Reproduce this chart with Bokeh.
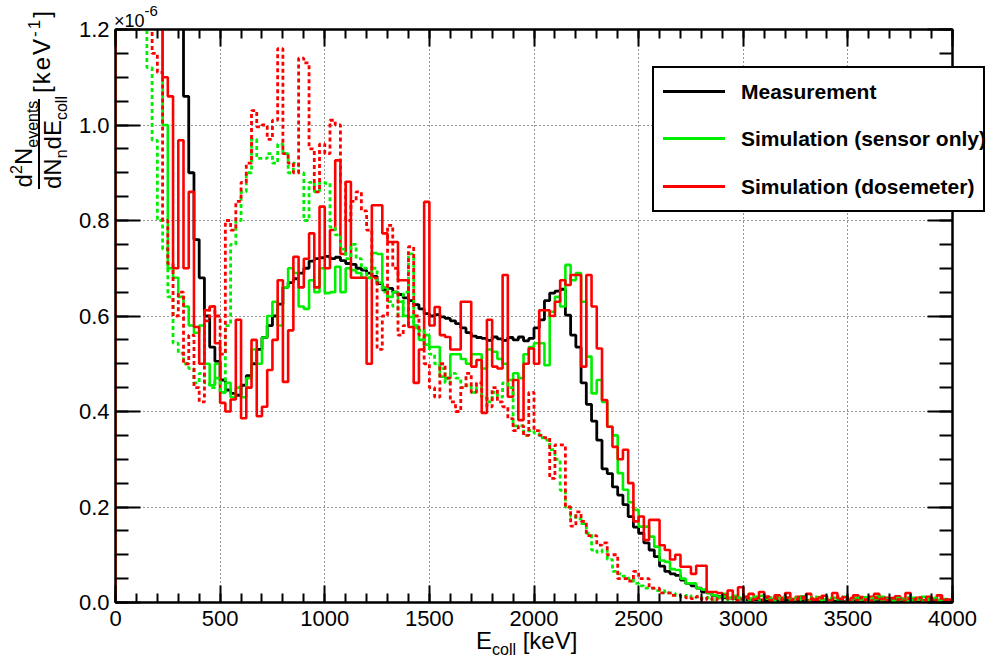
import numpy as np
from bokeh.plotting import figure
from bokeh.models import (LinearAxis, FixedTicker, Div, PrintfTickFormatter,
                          CustomJSTickFormatter, Range1d)
from bokeh.embed import file_html
from bokeh.resources import INLINE

# ---------------- data (values in units of 1e-6 keV^-1), 25 keV bins 0..4000 ----------------
bin_width_kev = 25
e_max_kev = 4000

measurement = [
    3.0, 3.0, 2.9, 2.7, 2.5, 2.3, 2.1, 1.9, 1.75, 1.6,
    1.5, 1.4, 1.3, 1.06, 0.90, 0.76, 0.68, 0.60, 0.535, 0.505,
    0.466, 0.445, 0.438, 0.434, 0.455, 0.475, 0.50, 0.53, 0.555, 0.58,
    0.60, 0.625, 0.66, 0.67, 0.678, 0.69, 0.70, 0.715, 0.72, 0.722,
    0.725, 0.72, 0.723, 0.716, 0.71, 0.708, 0.70, 0.696, 0.69, 0.683,
    0.668, 0.655, 0.658, 0.65, 0.645, 0.638, 0.632, 0.624, 0.615, 0.605,
    0.60, 0.603, 0.598, 0.595, 0.59, 0.584, 0.575, 0.565, 0.558, 0.555,
    0.553, 0.549, 0.556, 0.552, 0.549, 0.555, 0.55, 0.556, 0.548, 0.553,
    0.575, 0.592, 0.632, 0.648, 0.652, 0.656, 0.602, 0.56, 0.535, 0.46,
    0.415, 0.38, 0.34, 0.28, 0.27, 0.242, 0.225, 0.205, 0.18, 0.158,
    0.145, 0.125, 0.11, 0.096, 0.076, 0.065, 0.06, 0.057, 0.047, 0.04,
    0.035, 0.03, 0.022, 0.02, 0.014, 0.012, 0.01, 0.009, 0.008, 0.007,
    0.006, 0.005, 0.006, 0.005, 0.004, 0.005, 0.004, 0.004, 0.005, 0.003,
    0.004, 0.004, 0.003, 0.004, 0.003, 0.003, 0.004, 0.003, 0.003, 0.002,
    0.003, 0.003, 0.002, 0.003, 0.002, 0.002, 0.003, 0.002, 0.002, 0.002,
    0.002, 0.002, 0.001, 0.002, 0.002, 0.001, 0.002, 0.001, 0.002, 0.001,
]

sim_sensor = [
    3.0, 3.0, 2.8, 2.6, 2.4, 2.2, 2.0, 1.7, 1.4, 1.0,
    0.70, 0.68, 0.64, 0.62, 0.58, 0.565, 0.58, 0.50, 0.455, 0.50,
    0.44, 0.46, 0.43, 0.45, 0.43, 0.47, 0.53, 0.50, 0.555, 0.60,
    0.63, 0.58, 0.66, 0.70, 0.69, 0.62, 0.615, 0.675, 0.65, 0.70,
    0.648, 0.65, 0.703, 0.65, 0.70, 0.696, 0.69, 0.68, 0.68, 0.732,
    0.73, 0.66, 0.64, 0.65, 0.63, 0.60, 0.598, 0.575, 0.55, 0.56,
    0.535, 0.535, 0.473, 0.47, 0.52, 0.52, 0.51, 0.50, 0.52, 0.52,
    0.49, 0.53, 0.525, 0.51, 0.50, 0.466, 0.48, 0.47, 0.52, 0.535,
    0.543, 0.543, 0.497, 0.609, 0.64, 0.62, 0.707, 0.675, 0.69, 0.63,
    0.515, 0.438, 0.466, 0.42, 0.368, 0.35, 0.271, 0.236, 0.21, 0.194,
    0.159, 0.159, 0.138, 0.117, 0.088, 0.085, 0.07, 0.068, 0.05, 0.04,
    0.04, 0.03, 0.027, 0.02, 0.015, 0.012, 0.018, 0.01, 0.014, 0.008,
    0.012, 0.006, 0.01, 0.014, 0.008, 0.005, 0.012, 0.007, 0.01, 0.006,
    0.009, 0.013, 0.005, 0.008, 0.011, 0.006, 0.004, 0.01, 0.007, 0.012,
    0.005, 0.009, 0.006, 0.011, 0.004, 0.008, 0.012, 0.006, 0.009, 0.005,
    0.008, 0.004, 0.01, 0.006, 0.012, 0.005, 0.008, 0.004, 0.007, 0.005,
]

sim_dosemeter = [
    3.0, 3.0, 2.8, 2.6, 2.4, 2.2, 2.0, 1.7, 1.4, 1.10,
    1.06, 0.70, 0.968, 0.70, 0.86, 0.577, 0.50, 0.612, 0.62, 0.543,
    0.418, 0.40, 0.425, 0.592, 0.386, 0.45, 0.55, 0.39, 0.41, 0.487,
    0.55, 0.675, 0.462, 0.57, 0.724, 0.66, 0.72, 0.773, 0.66, 0.829,
    0.70, 0.78, 0.926, 0.73, 0.881, 0.68, 0.68, 0.68, 0.50, 0.832,
    0.832, 0.773, 0.755, 0.755, 0.675, 0.675, 0.577, 0.46, 0.53, 0.839,
    0.58, 0.619, 0.56, 0.556, 0.53, 0.53, 0.63, 0.63, 0.494, 0.508,
    0.397, 0.592, 0.494, 0.49, 0.686, 0.431, 0.466, 0.382, 0.50, 0.532,
    0.50, 0.612, 0.612, 0.60, 0.63, 0.675, 0.665, 0.686, 0.686, 0.494,
    0.686, 0.62, 0.532, 0.424, 0.368, 0.326, 0.30, 0.32, 0.25, 0.17,
    0.18, 0.131, 0.173, 0.173, 0.12, 0.11, 0.09, 0.10, 0.075, 0.075,
    0.06, 0.077, 0.077, 0.022, 0.022, 0.02, 0.015, 0.025, 0.01, 0.032,
    0.012, 0.018, 0.008, 0.022, 0.01, 0.006, 0.015, 0.01, 0.02, 0.007,
    0.012, 0.008, 0.018, 0.006, 0.01, 0.014, 0.005, 0.02, 0.008, 0.011,
    0.006, 0.015, 0.009, 0.005, 0.012, 0.018, 0.007, 0.01, 0.005, 0.013,
    0.008, 0.02, 0.006, 0.01, 0.004, 0.012, 0.007, 0.015, 0.005, 0.006,
]

sim_sensor_dotted = [
    3.0, 3.0, 2.8, 2.5, 2.2, 1.8, 1.12, 0.968, 0.80, 0.74,
    0.64, 0.543, 0.522, 0.50, 0.49, 0.46, 0.48, 0.46, 0.45, 0.47,
    0.44, 0.58, 0.75, 0.80, 0.86, 0.90, 0.97, 0.93, 0.93, 0.94,
    0.92, 0.96, 0.94, 0.90, 0.92, 0.90, 0.80, 0.88, 0.86, 0.88,
    0.878, 0.786, 0.77, 0.74, 0.72, 0.75, 0.72, 0.70, 0.68, 0.70,
    0.67, 0.65, 0.63, 0.62, 0.60, 0.65, 0.73, 0.58, 0.57, 0.54,
    0.52, 0.50, 0.49, 0.46, 0.48, 0.47, 0.45, 0.455, 0.44, 0.45,
    0.43, 0.42, 0.44, 0.43, 0.46, 0.45, 0.37, 0.37, 0.35, 0.36,
    0.355, 0.345, 0.34, 0.32, 0.30, 0.235, 0.20, 0.18, 0.175, 0.165,
    0.145, 0.11, 0.105, 0.11, 0.09, 0.065, 0.06, 0.055, 0.05, 0.04,
    0.035, 0.03, 0.03, 0.025, 0.025, 0.02, 0.02, 0.015, 0.012, 0.015,
    0.01, 0.012, 0.008, 0.01, 0.006, 0.009, 0.012, 0.005, 0.008, 0.01,
    0.006, 0.009, 0.012, 0.005, 0.008, 0.01, 0.004, 0.011, 0.007, 0.006,
    0.01, 0.005, 0.008, 0.012, 0.006, 0.004, 0.009, 0.007, 0.011, 0.005,
    0.008, 0.006, 0.01, 0.004, 0.009, 0.012, 0.005, 0.007, 0.004, 0.009,
    0.006, 0.01, 0.005, 0.008, 0.004, 0.007, 0.009, 0.005, 0.006, 0.004,
]

sim_dosemeter_dotted = [
    3.0, 3.0, 2.8, 2.5, 2.2, 1.8, 1.5, 1.15, 1.11, 0.80,
    0.71, 0.60, 0.65, 0.50, 0.56, 0.45, 0.42, 0.59, 0.62, 0.60,
    0.52, 0.80, 0.78, 0.84, 0.88, 0.92, 1.03, 0.996, 1.00, 0.97,
    1.01, 1.16, 0.94, 0.92, 0.90, 1.14, 1.13, 0.95, 0.86, 0.96,
    0.94, 1.01, 1.0, 0.88, 0.80, 0.84, 0.86, 0.82, 0.78, 0.68,
    0.53, 0.60, 0.79, 0.70, 0.56, 0.58, 0.745, 0.60, 0.56, 0.50,
    0.45, 0.43, 0.50, 0.47, 0.42, 0.40, 0.45, 0.48, 0.44, 0.46,
    0.43, 0.41, 0.45, 0.42, 0.41, 0.385, 0.36, 0.37, 0.35, 0.44,
    0.36, 0.35, 0.345, 0.26, 0.33, 0.33, 0.20, 0.16, 0.19, 0.17,
    0.14, 0.14, 0.12, 0.125, 0.10, 0.10, 0.05, 0.05, 0.045, 0.065,
    0.05, 0.05, 0.03, 0.03, 0.02, 0.02, 0.015, 0.015, 0.012, 0.01,
    0.008, 0.012, 0.006, 0.01, 0.005, 0.009, 0.007, 0.011, 0.004, 0.008,
    0.01, 0.005, 0.009, 0.006, 0.012, 0.004, 0.008, 0.006, 0.01, 0.005,
    0.007, 0.011, 0.004, 0.009, 0.006, 0.01, 0.005, 0.008, 0.012, 0.004,
    0.009, 0.005, 0.011, 0.006, 0.004, 0.01, 0.007, 0.005, 0.009, 0.006,
    0.004, 0.008, 0.006, 0.01, 0.005, 0.007, 0.004, 0.009, 0.006, 0.005,
]

x_ticks = [0, 500, 1000, 1500, 2000, 2500, 3000, 3500, 4000]
y_ticks = [0.0, 0.2, 0.4, 0.6, 0.8, 1.0, 1.2]
legend_labels = ["Measurement", "Simulation (sensor only)", "Simulation (dosemeter)"]
legend_colors = ["black", "#00ee00", "#ff0000"]

# ---------------- layout ----------------
W, H = 1008, 666
FL, FR, FT, FB = 115, 952, 29, 602   # frame edges in canvas pixels
FONT = "Liberation Sans"

p = figure(width=W, height=H, x_range=Range1d(0, e_max_kev), y_range=Range1d(0, 1.2),
           output_backend="svg", toolbar_location=None,
           min_border_left=FL, min_border_right=W - FR, min_border_top=FT, min_border_bottom=H - FB)
p.outline_line_color = "black"
p.outline_line_width = 2
p.background_fill_color = "white"
p.border_fill_color = "white"

xt = FixedTicker(ticks=x_ticks, minor_ticks=[v for v in range(0, 4001, 100)])
yt = FixedTicker(ticks=y_ticks, minor_ticks=[round(0.05 * k, 2) for k in range(0, 25)])
blank = CustomJSTickFormatter(code="return ''")

def style_axis(ax, tick_in, minor_in):
    ax.axis_line_width = 2
    ax.axis_line_color = "black"
    ax.major_tick_in = tick_in
    ax.major_tick_out = 0
    ax.minor_tick_in = minor_in
    ax.minor_tick_out = 0
    ax.major_tick_line_width = 2
    ax.minor_tick_line_width = 2
    ax.major_tick_line_color = "black"
    ax.minor_tick_line_color = "black"
    ax.major_label_text_font = FONT
    ax.major_label_text_color = "black"
    ax.major_label_text_font_size = "22px"

xa = p.xaxis[0]
xa.ticker = xt
style_axis(xa, 17, 9)
xa.major_label_standoff = 8
ya = p.yaxis[0]
ya.ticker = yt
ya.formatter = PrintfTickFormatter(format="%.1f")
style_axis(ya, 25, 13)
ya.major_label_standoff = 6

ra = LinearAxis(ticker=yt, formatter=blank)
style_axis(ra, 25, 13)
p.add_layout(ra, "right")
ta = LinearAxis(ticker=xt, formatter=blank)
style_axis(ta, 17, 9)
p.add_layout(ta, "above")

for g in (p.xgrid[0], p.ygrid[0]):
    g.grid_line_color = "black"
    g.grid_line_dash = "1 3"
    g.grid_line_width = 1
    g.grid_line_alpha = 0.85
p.xgrid[0].ticker = xt
p.ygrid[0].ticker = yt

# ---------------- histograms ----------------
edges = [i * bin_width_kev for i in range(len(measurement) + 1)]

def hist(vals, color, dash="solid", width=2.6):
    xs = [0] + edges
    ys = [0] + list(vals) + [vals[-1]]
    return p.step(xs, ys, mode="after", line_color=color, line_width=width, line_dash=dash)

r_meas = hist(measurement, legend_colors[0], width=2.8)
r_sens = hist(sim_sensor, legend_colors[1])
r_dose = hist(sim_dosemeter, legend_colors[2])
r_sens_d = hist(sim_sensor_dotted, legend_colors[1], dash="4 3", width=2.8)
r_dose_d = hist(sim_dosemeter_dotted, legend_colors[2], dash="4 3", width=2.8)

# ---------------- HTML overlay: axis titles and legend (extends past the frame) ----------------
BIG, SMALL = 24, 16
ASC = 0.8465  # baseline position within a line box of line-height 1 (Liberation Sans)

def sub(t, size=SMALL, dy=6):
    return f'<span style="font-size:{size}px;position:relative;top:{dy}px">{t}</span>'

def sup(t, size=SMALL, dy=-10):
    return f'<span style="font-size:{size}px;position:relative;top:{dy}px">{t}</span>'

def htext(x, baseline_y, inner, fs=BIG, extra=""):
    return (f'<div style="position:absolute;left:{x}px;top:{baseline_y - ASC * fs:.1f}px;'
            f'font-size:{fs}px;line-height:1;white-space:nowrap;{extra}">{inner}</div>')

def vtext(baseline_x, start_y, inner, fs=BIG, width=None, align="left", extra=""):
    w = f"width:{width}px;" if width else ""
    return (f'<div style="position:absolute;left:{baseline_x - ASC * fs:.1f}px;top:{start_y}px;{w}'
            f'font-size:{fs}px;line-height:1;white-space:nowrap;text-align:{align};'
            f'transform-origin:0 0;transform:rotate(-90deg);{extra}">{inner}</div>')

def box(left, top, width, height, style):
    return (f'<div style="position:absolute;left:{left}px;top:{top}px;width:{width}px;'
            f'height:{height}px;box-sizing:border-box;{style}"></div>')

bar_top, bar_bot = 99, 189
parts = [
    htext(476, 649, "E" + sub("coll") + " [keV]"),
    htext(114, 27, "×10" + sup("-6", 15, -11), fs=18),
    vtext(32, bar_bot, "d" + sup("2") + "N" + sub("events"), width=bar_bot - bar_top, align="center"),
    vtext(61, bar_bot, "dN" + sub("n") + "dE" + sub("coll"), width=bar_bot - bar_top, align="center"),
    vtext(50, 93, "[keV" + sup("-1", 17) + "]", extra="letter-spacing:2px"),
    box(38, bar_top, 2, bar_bot - bar_top, "background:black"),
]

# legend
LG_L, LG_T, LG_W, LG_H = 652, 66, 333, 146
row_centers = [91.7, 138.5, 186.7]
parts.append(box(LG_L, LG_T, LG_W, LG_H, "border:2px solid black;background:white"))
for yc, col, lab in zip(row_centers, legend_colors, legend_labels):
    parts.append(box(663, round(yc - 1.5, 1), 62, 3, f"background:{col}"))
    parts.append(htext(741, yc + 7.5, lab, fs=21, extra="font-weight:bold"))

overlay_html = (f'<div style="position:relative;width:{W}px;height:{H}px;margin:0;padding:0;'
                f'font-family:\'{FONT}\';color:black">' + "".join(parts) + "</div>")
overlay = Div(text=overlay_html, width=W, height=H, margin=(0, 0, 0, 0),
              styles={"position": "absolute", "left": "0px", "top": "0px",
                      "margin": "0px", "padding": "0px", "pointer-events": "none"})

open("out.html", "w").write(file_html([p, overlay], INLINE))
